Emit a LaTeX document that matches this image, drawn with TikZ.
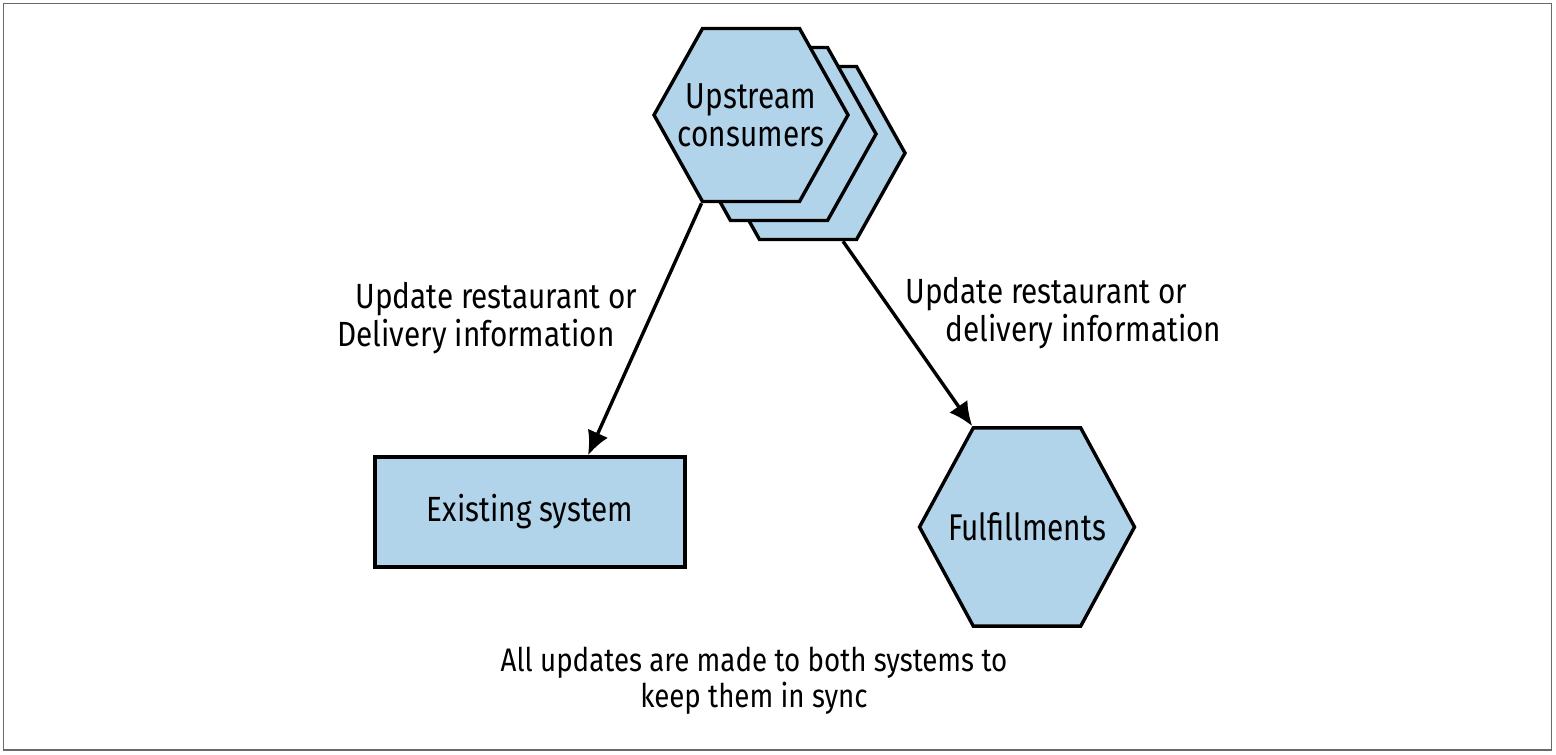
\documentclass[tikz,border=0pt]{standalone}
\usepackage{fontspec}
\setmainfont{Fira Sans}[FakeStretch=0.85]
\usetikzlibrary{shapes.geometric,arrows.meta}
\definecolor{hexblue}{RGB}{178,212,234}
\definecolor{framegray}{RGB}{105,105,105}
\tikzset{
  box/.style={draw,line width=1.7pt,fill=hexblue,font=\fontsize{17.5}{18.5}\selectfont},
  hexa/.style={box,regular polygon,regular polygon sides=6,inner sep=-12pt},
  lab/.style={font=\fontsize{17.5}{19}\selectfont,inner sep=0pt}
}
\begin{document}
\begin{tikzpicture}[x=0.5pt,y=-0.5pt,>={Latex[length=12pt,width=11pt]}]
        \useasboundingbox (0,0) rectangle (1556,754);
        % The thin frame around the whole diagram
        \draw [framegray,line width=0.75pt] (3.5,3.5) rectangle (1551.5,750);

        % Stacked hexagons behind the upstream consumers
        \foreach \i/\dx/\dy in {3/57/38, 2/28/19} {
          \node [hexa,minimum size=97pt,yscale=1.03] (ups\i) at (751+\dx,115+\dy) {};
        }
        \node [hexa,minimum size=97pt,yscale=1.03,align=center] (ups1) at (751,115) {Upstream\\consumers};

        % The two target systems
        \node [box,minimum width=155pt,minimum height=55pt] (exist) at (530,512) {Existing system};
        \node [hexa,minimum size=107.5pt,yscale=1.064] (ful) at (1027,527) {Fulfillments};

        % The update arrows and their labels
        \draw [->,line width=1.7pt] (ups1.240) -- ([xshift=29pt]exist.north);
        \draw [->,line width=1.7pt] ([xshift=17.5pt]ups3.south) -- (ful.120);
        \node [lab,align=left,anchor=north west] (labA) at (337,282) {\hspace*{9pt}Update restaurant or\\Delivery information};
        \node [lab,align=left,anchor=north west] (labB) at (905,277) {Update restaurant or\\\hspace*{20pt}delivery information};

        % Note at the bottom
        \node [lab,font=\fontsize{16.3}{18}\selectfont,align=center,anchor=north] (note) at (754,647) {All updates are made to both systems to\\keep them in sync};
    \end{tikzpicture}
\end{document}
